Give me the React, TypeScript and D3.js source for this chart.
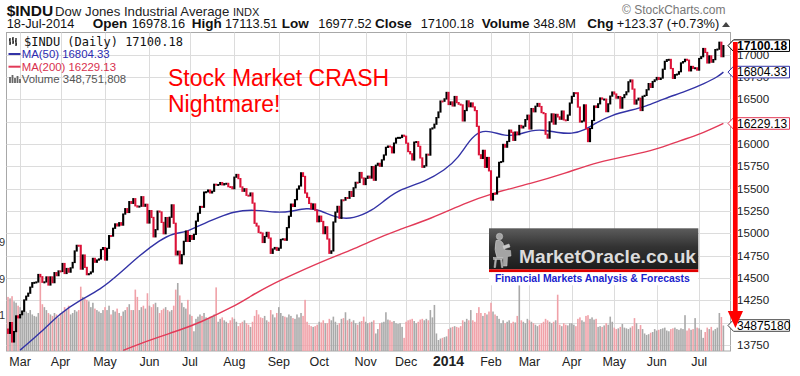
import React from 'react';
import * as d3 from 'd3';

// Close of the session before the first bar (20-Feb-2013)
const prevClose = 13927.54;

// trading days shown per month (first entry: tail of Feb 2013)
const monthDays = [6, 20, 22, 22, 20, 22, 22, 20, 23, 20, 21, 21, 19, 21, 21, 21, 21, 13];
const monthLabels = ['', 'Mar', 'Apr', 'May', 'Jun', 'Jul', 'Aug', 'Sep', 'Oct', 'Nov', 'Dec', '2014', 'Feb', 'Mar', 'Apr', 'May', 'Jun', 'Jul'];

const closes = [
  13880.62, 14000.57, 13784.17, 13900.13, 14075.37, 14054.49,
  14089.66, 14127.82, 14253.77, 14296.24, 14329.49, 14397.07, 14447.29, 14450.06, 14455.28, 14539.14, 14514.11, 14452.06, 14455.82, 14511.73, 14421.49, 14512.03, 14447.75, 14559.65, 14526.16, 14578.54,
  14572.85, 14662.01, 14550.35, 14606.11, 14565.25, 14613.48, 14673.46, 14802.24, 14865.14, 14865.06, 14599.2, 14756.78, 14618.59, 14537.14, 14547.51, 14567.17, 14719.46, 14676.3, 14700.8, 14712.55, 14818.75, 14839.8,
  14700.95, 14831.58, 14973.96, 14968.89, 15056.2, 15105.12, 15082.62, 15118.49, 15091.68, 15215.25, 15275.69, 15233.22, 15354.4, 15335.28, 15387.58, 15307.17, 15294.5, 15303.1, 15409.39, 15302.8, 15324.53, 15115.57,
  15254.03, 15177.54, 14960.59, 15040.62, 15248.12, 15238.59, 15122.02, 14995.23, 15176.08, 15070.18, 15179.85, 15318.23, 15112.19, 14758.32, 14799.4, 14659.56, 14760.31, 14910.14, 15024.49, 14909.6,
  14974.96, 14932.41, 14988.38, 15135.84, 15224.69, 15300.34, 15291.66, 15460.92, 15464.3, 15484.26, 15451.85, 15470.52, 15548.54, 15543.74, 15545.55, 15567.74, 15542.24, 15555.61, 15558.83, 15521.97, 15520.59, 15499.54,
  15628.02, 15658.36, 15612.13, 15518.74, 15470.67, 15498.32, 15425.51, 15419.68, 15451.01, 15337.66, 15112.19, 15081.47, 15010.74, 15002.99, 14897.55, 14963.74, 15010.51, 14946.46, 14776.13, 14824.51, 14840.95, 14810.31,
  14833.96, 14930.87, 14937.48, 14922.5, 15063.12, 15191.06, 15326.6, 15300.64, 15376.06, 15494.78, 15529.73, 15676.94, 15636.55, 15451.09, 15401.38, 15334.59, 15273.26, 15328.3, 15258.24, 15129.67,
  15191.7, 15133.14, 14996.48, 15072.58, 14936.24, 14776.53, 14802.98, 15126.07, 15237.11, 15301.26, 15168.01, 15373.83, 15371.65, 15399.65, 15392.2, 15467.66, 15413.33, 15509.21, 15570.28, 15568.93, 15680.35, 15618.76, 15545.75,
  15615.55, 15639.12, 15618.22, 15746.88, 15593.98, 15761.78, 15783.1, 15750.67, 15821.63, 15876.22, 15961.7, 15976.02, 15967.03, 15900.82, 16009.99, 16064.77, 16072.54, 16072.8, 16097.33, 16086.41,
  16008.77, 15914.62, 15889.77, 15821.51, 16020.2, 16025.53, 15973.13, 15843.53, 15739.43, 15755.36, 15884.57, 15875.26, 16167.97, 16179.08, 16221.14, 16294.61, 16357.55, 16479.88, 16478.41, 16504.29, 16576.66,
  16441.35, 16469.99, 16425.1, 16530.94, 16462.74, 16444.76, 16437.05, 16257.94, 16373.86, 16481.94, 16417.01, 16458.56, 16414.44, 16373.34, 16197.35, 15879.11, 15837.88, 15928.56, 15738.79, 15848.61, 15698.85,
  15372.8, 15445.24, 15440.23, 15628.53, 15794.08, 15801.79, 15994.77, 15963.94, 16027.59, 16154.39, 16130.4, 16040.56, 16133.23, 16103.3, 16207.14, 16179.66, 16198.41, 16272.65, 16321.71,
  16168.03, 16395.88, 16360.18, 16421.89, 16452.72, 16418.68, 16351.25, 16340.08, 16108.89, 16065.67, 16247.22, 16336.19, 16222.17, 16331.05, 16302.77, 16276.69, 16367.88, 16268.99, 16264.23, 16323.06, 16457.66,
  16532.61, 16573.0, 16572.55, 16412.71, 16245.87, 16256.14, 16437.18, 16170.22, 16026.75, 16173.24, 16262.56, 16424.85, 16408.54, 16449.25, 16514.37, 16501.65, 16501.65, 16361.46, 16448.74, 16535.37, 16580.84,
  16558.87, 16512.89, 16530.55, 16401.02, 16518.54, 16550.97, 16583.34, 16695.47, 16715.44, 16613.97, 16446.81, 16491.31, 16511.86, 16374.31, 16533.06, 16543.08, 16606.27, 16675.5, 16633.18, 16698.74, 16717.17,
  16743.63, 16722.34, 16737.53, 16836.11, 16924.28, 16943.1, 16945.92, 16843.88, 16734.19, 16775.74, 16781.01, 16808.49, 16906.62, 16921.46, 16947.08, 16937.26, 16818.13, 16867.51, 16846.13, 16851.84, 16826.6,
  16956.07, 16976.24, 17068.26, 17024.21, 16906.62, 16985.61, 16915.07, 16943.81, 17055.42, 17060.68, 17138.2, 16976.81, 17100.18,
];

// volume, millions of shares
const volumes = [
  740, 720, 750, 680, 660, 620,
  600, 560, 580, 540, 520, 560, 500, 480, 470, 520, 1010, 640, 600, 560, 520, 500, 480, 520, 500, 460,
  520, 540, 600, 560, 620, 500, 520, 560, 540, 560, 880, 740, 720, 700, 680, 600, 660, 580, 560, 540, 520, 560,
  600, 560, 620, 500, 560, 540, 580, 520, 480, 540, 560, 600, 640, 560, 560, 840, 740, 560, 600, 620, 580, 790,
  620, 600, 640, 660, 600, 520, 560, 580, 600, 560, 540, 560, 620, 840, 930, 760, 660, 600, 580, 700,
  500, 480, 270, 440, 470, 500, 480, 520, 460, 440, 470, 480, 500, 870, 400, 440, 460, 420, 400, 380, 420, 460,
  440, 400, 340, 380, 400, 420, 380, 360, 330, 400, 480, 560, 500, 460, 450, 480, 420, 400, 560, 500, 460, 520,
  600, 520, 480, 470, 460, 500, 480, 450, 440, 500, 460, 520, 480, 700, 400, 360, 340, 330, 340, 360,
  400, 390, 420, 380, 380, 440, 420, 470, 400, 360, 380, 440, 450, 530, 420, 440, 400, 420, 380, 360, 400, 410, 470,
  400, 380, 390, 400, 420, 240, 300, 380, 390, 400, 530, 430, 420, 400, 410, 380, 370, 380, 330, 180,
  400, 420, 430, 440, 410, 380, 400, 430, 440, 420, 440, 420, 560, 460, 630, 240, 150, 170, 180, 190, 200,
  300, 320, 330, 340, 330, 320, 340, 420, 400, 440, 420, 560, 420, 400, 520, 600, 520, 480, 520, 500, 540,
  660, 540, 500, 480, 440, 380, 420, 380, 400, 420, 380, 400, 390, 480, 900, 420, 400, 380, 440,
  420, 400, 380, 360, 340, 360, 380, 400, 440, 420, 400, 380, 400, 420, 770, 360, 340, 380, 360, 350, 380,
  380, 360, 340, 440, 460, 420, 400, 480, 490, 440, 460, 430, 440, 330, 340, 330, 350, 380, 360, 470, 400,
  320, 300, 310, 330, 370, 320, 310, 300, 320, 340, 450, 380, 300, 355, 300, 240, 220, 230, 250, 260, 300,
  280, 290, 300, 310, 320, 280, 270, 300, 310, 320, 300, 290, 310, 300, 490, 280, 310, 290, 300, 450, 320,
  310, 290, 180, 260, 320, 300, 330, 280, 300, 320, 520, 465, 348.75,
];

// moving averages: [trading-day index, value]
const ma50 = [
  [6, 13693], [15.8, 13880], [25.7, 14104], [35.6, 14253], [45.5, 14365], [55.4, 14552], [65.3, 14757], [75.2, 14925],
  [81.6, 15000], [88.6, 15014], [95, 15093], [104.9, 15185], [111.3, 15241], [121.2, 15268], [133.1, 15230], [139.5, 15241],
  [147.9, 15286], [154.4, 15260], [162.7, 15170], [170.8, 15160], [180.6, 15260], [186.5, 15372], [194, 15495], [206.3, 15577],
  [216.2, 15708], [222.7, 15839], [228.6, 16050], [233.5, 16148], [239.3, 16140], [245.9, 16089], [252.4, 16100], [259.1, 16156],
  [265.7, 16156], [272.3, 16126], [278.9, 16111], [285.5, 16156], [290.4, 16231], [298.7, 16324], [308.6, 16380], [315.2, 16417],
  [325.1, 16511], [335, 16585], [344.9, 16679], [351.3, 16753], [354, 16804.33],
];
const ma200 = [
  [57, 13690], [70, 13805], [85, 13917], [95, 14000], [111.5, 14178], [119.7, 14290], [128, 14402], [144.5, 14575],
  [159.3, 14720], [169.2, 14805], [179, 14910], [193.1, 15037], [209.7, 15168], [226, 15335], [239.3, 15447], [259, 15559],
  [275.6, 15671], [292, 15801], [308.6, 15876], [320, 15932], [333.3, 16044], [341.6, 16100], [354, 16229.13],
];

const priceTicks = [13750, 14000, 14250, 14500, 14750, 15000, 15250, 15500, 15750, 16000, 16250, 16500, 16750, 17000];
// labels StockCharts hides behind the last-value tags
const hiddenTickLabels = [14000, 16250];

const lastVolumeLabel = '34875180';

const headerItems = [
  { t: '18-Jul-2014', x: 6.7, b: false },
  { t: 'Open', x: 92.7, b: true },
  { t: '16978.16', x: 131.7, b: false },
  { t: 'High', x: 191.7, b: true },
  { t: '17113.51', x: 225, b: false },
  { t: 'Low', x: 281.7, b: true },
  { t: '16977.52', x: 318.3, b: false },
  { t: 'Close', x: 375, b: true },
  { t: '17100.18', x: 420.7, b: false },
  { t: 'Volume', x: 481.7, b: true },
  { t: '348.8M', x: 533.3, b: false },
  { t: 'Chg', x: 587.3, b: true },
  { t: '+123.37 (+0.73%)', x: 616.7, b: false },
];

const SANS = "'Liberation Sans', Arial, sans-serif";

export default function App() {
  const L = 6.5, R = 730.5, T = 32.5, B = 351;
  const n = closes.length;
  const x = d3.scaleLinear().domain([0, n - 1]).range([8, 723.4]);
  const y = d3.scaleLinear().domain([13750, 17000]).range([345, 54.6]);
  const yv = d3.scaleLinear().domain([0, 1000]).range([B, B - 1000 / 13.68]);

  let acc = 0;
  const monthStarts = monthDays.map((d) => { const s = acc; acc += d; return s; });

  const line = d3.line<number[]>().x((d) => x(d[0])).y((d) => y(d[1])).curve(d3.curveBasis);

  const up = closes.map((c, i) => c >= (i === 0 ? prevClose : closes[i - 1]));

  const labelBox = (c: number, stroke: string, text: string, bold: boolean, color = '#000') => (
    <g>
      <path d={`M728,${c} L733.5,${c - 5.8} L789.5,${c - 5.8} L789.5,${c + 5.8} L733.5,${c + 5.8} Z`} fill="#fff" stroke={stroke} strokeWidth={1} />
      <text x={737} y={c + 4.3} fontFamily={SANS} fontSize={12} fontWeight={bold ? 'bold' : 'normal'} fill={color}>{text}</text>
    </g>
  );

  return (
    <svg width={800} height={376} style={{ position: 'absolute', left: 0, top: 0, background: '#fff' }} xmlns="http://www.w3.org/2000/svg">
      <defs>
        <clipPath id="plot"><rect x={L} y={T} width={R - L} height={B - T} /></clipPath>
        <linearGradient id="logo" x1="0" y1="0" x2="0" y2="1">
          <stop offset="0" stopColor="#5c5c5c" />
          <stop offset="0.45" stopColor="#333" />
          <stop offset="1" stopColor="#1c1c1c" />
        </linearGradient>
      </defs>
      <rect width={800} height={376} fill="#fff" />

      {/* header */}
      <text x={6.7} y={16} fontFamily={SANS} fontSize={15.5} fontWeight="bold" fill="#111">$INDU</text>
      <text x={55} y={16} fontFamily={SANS} fontSize={13.2} fill="#222">Dow Jones Industrial Average</text>
      <text x={233} y={16} fontFamily={SANS} fontSize={11} fill="#222">INDX</text>
      <text x={622} y={13.5} fontFamily={SANS} fontSize={12} fill="#777">© StockCharts.com</text>
      {headerItems.map((h, i) => (
        <text key={i} x={h.x} y={27.5} fontFamily={SANS} fontSize={h.b ? 13.5 : 12.8} fontWeight={h.b ? 'bold' : 'normal'} fill="#111">{h.t}</text>
      ))}
      <path d="M722,27 L726,22 L730,27 Z" fill="#444" />

      {/* plot frame & grid */}
      <rect x={L} y={T} width={R - L} height={B - T} fill="#fff" stroke="#a8a8a8" strokeWidth={1} />
      <g stroke="#dcdcdc" strokeWidth={1}>
        {priceTicks.map((t) => <line key={t} x1={L} x2={R} y1={Math.round(y(t)) + 0.5} y2={Math.round(y(t)) + 0.5} />)}
        {monthStarts.slice(1).map((s, i) => <line key={i} x1={Math.round(x(s)) + 0.5} x2={Math.round(x(s)) + 0.5} y1={T} y2={B} />)}
      </g>

      <g clipPath="url(#plot)">
        {/* volume */}
        {volumes.map((v, i) => (
          <rect key={i} x={x(i) - 0.8} width={1.6} y={yv(v)} height={B - yv(v)} fill={up[i] ? '#a9a9a9' : '#f0a1a8'} />
        ))}
        {/* moving averages */}
        <path d={line(ma200 as any) || ''} fill="none" stroke="#e23a58" strokeWidth={1.4} />
        <path d={line(ma50 as any) || ''} fill="none" stroke="#3333a6" strokeWidth={1.4} />
        {/* price bars */}
        {closes.map((c, i) => {
          const p = i === 0 ? prevClose : closes[i - 1];
          const y1 = y(Math.max(c, p));
          const y2 = y(Math.min(c, p));
          return <rect key={i} x={x(i) - 1.05} width={2.1} y={y1 - 0.6} height={Math.max(2, y2 - y1 + 1.2)} fill={up[i] ? '#000' : '#dc1238'} />;
        })}
      </g>

      {/* legend */}
      <g>
        <path d="M10,38 L10,45 M9,40 L10,40 M10,43 L11,43 M13,37 L13,44 M12,39 L13,39 M13,42 L14,42 M16,38 L16,46 M15,41 L16,41 M16,44 L17,44" stroke="#000" strokeWidth={1.2} />
        <text x={24} y={46} fontFamily="'DejaVu Sans Mono', monospace" fontSize={12} fill="#111">$INDU (Daily) 17100.18</text>
        <line x1={8.5} x2={20.5} y1={54} y2={54} stroke="#3333a6" strokeWidth={2} />
        <text x={21.7} y={58} fontFamily={SANS} fontSize={11.4} fill="#2b2bb0">MA(50) 16804.33</text>
        <line x1={8.5} x2={20.5} y1={66.7} y2={66.7} stroke="#e23a58" strokeWidth={2} />
        <text x={21.7} y={70.7} fontFamily={SANS} fontSize={11.4} fill="#d8304e">MA(200) 16229.13</text>
        <path d="M10,83 L10,77 M12.5,83 L12.5,75 M15,83 L15,78 M17.5,83 L17.5,76 M20,83 L20,79" stroke="#666" strokeWidth={1.8} />
        <text x={21.7} y={83.3} fontFamily={SANS} fontSize={11.4} fill="#555">Volume 348,751,808</text>
      </g>

      {/* remnants of cropped left labels */}
      <text x={5} y={246} textAnchor="end" fontFamily={SANS} fontSize={11} fill="#333">9</text>
      <text x={5} y={283} textAnchor="end" fontFamily={SANS} fontSize={11} fill="#333">9</text>
      <text x={5} y={319} textAnchor="end" fontFamily={SANS} fontSize={11} fill="#333">1</text>

      {/* annotation */}
      <text x={168} y={86} fontFamily={SANS} fontSize={23} fill="#ff0000">Stock Market CRASH</text>
      <text x={168} y={111.7} fontFamily={SANS} fontSize={23} fill="#ff0000">Nightmare!</text>

      {/* logo */}
      <g>
        <rect x={489} y={228.3} width={209.3} height={41} fill="url(#logo)" />
        <rect x={489} y={269.3} width={209.3} height={3} fill="#e00000" />
        <rect x={489} y={272.3} width={209.3} height={13} fill="#fff" />
        <g fill="#a4a4a4" stroke="#cfcfcf" strokeWidth={0.5}>
          <circle cx={499.5} cy={236.5} r={3.2} />
          <path d="M496,240.5 Q500.5,239 503,243 L505,250 L510.5,250.5 L511,256 L507.5,256.5 L507,266 L503.5,266 L503.5,258 L497,257.5 Q493.5,250 496,240.5 Z" />
          <rect x={493.5} y={257.5} width={9} height={2} />
          <path d="M495,259.5 L494,267.5 L495.5,267.5 L496.5,259.5 Z M500.5,259.5 L501.5,267.5 L503,267.5 L502,259.5 Z" />
          <path d="M503,246 L509,244 L510,247 L504,249 Z" fill="#c8c8c8" />
        </g>
        <text x={519} y={262.7} fontFamily={SANS} fontSize={19.2} fontWeight="bold" fill="#dcdcdc">MarketOracle.co.uk</text>
        <text x={495} y={282} fontFamily={SANS} fontSize={10.4} fontWeight="bold" fill="#1a22cc">Financial Markets Analysis &amp; Forecasts</text>
      </g>

      {/* x axis labels */}
      {monthStarts.slice(1).map((s, i) => {
        const lab = monthLabels[i + 1];
        const bold = lab === '2014';
        return (
          <text key={i} x={x(s)} y={366} textAnchor="middle" fontFamily={SANS} fontSize={bold ? 14 : 12.5} fontWeight={bold ? 'bold' : 'normal'} fill="#222">{lab}</text>
        );
      })}

      {/* y axis labels */}
      {priceTicks.filter((t) => !hiddenTickLabels.includes(t)).map((t) => (
        <text key={t} x={737} y={y(t) + 4.1} fontFamily={SANS} fontSize={11.6} fill="#222">{t}</text>
      ))}

      {/* last value boxes */}
      {labelBox(y(17100.18), '#000', '17100.18', true)}
      {labelBox(y(16804.33), '#3333a6', '16804.33', false)}
      {labelBox(y(16229.13), '#e23a58', '16229.13', false)}
      {labelBox(yv(348.75), '#444', lastVolumeLabel, false)}

      {/* red arrow */}
      <line x1={735.3} x2={735.3} y1={42} y2={313} stroke="#ff0000" strokeWidth={4.7} />
      <path d="M727.8,311 L743,311 L735.4,328 Z" fill="#ff0000" />
    </svg>
  );
}
